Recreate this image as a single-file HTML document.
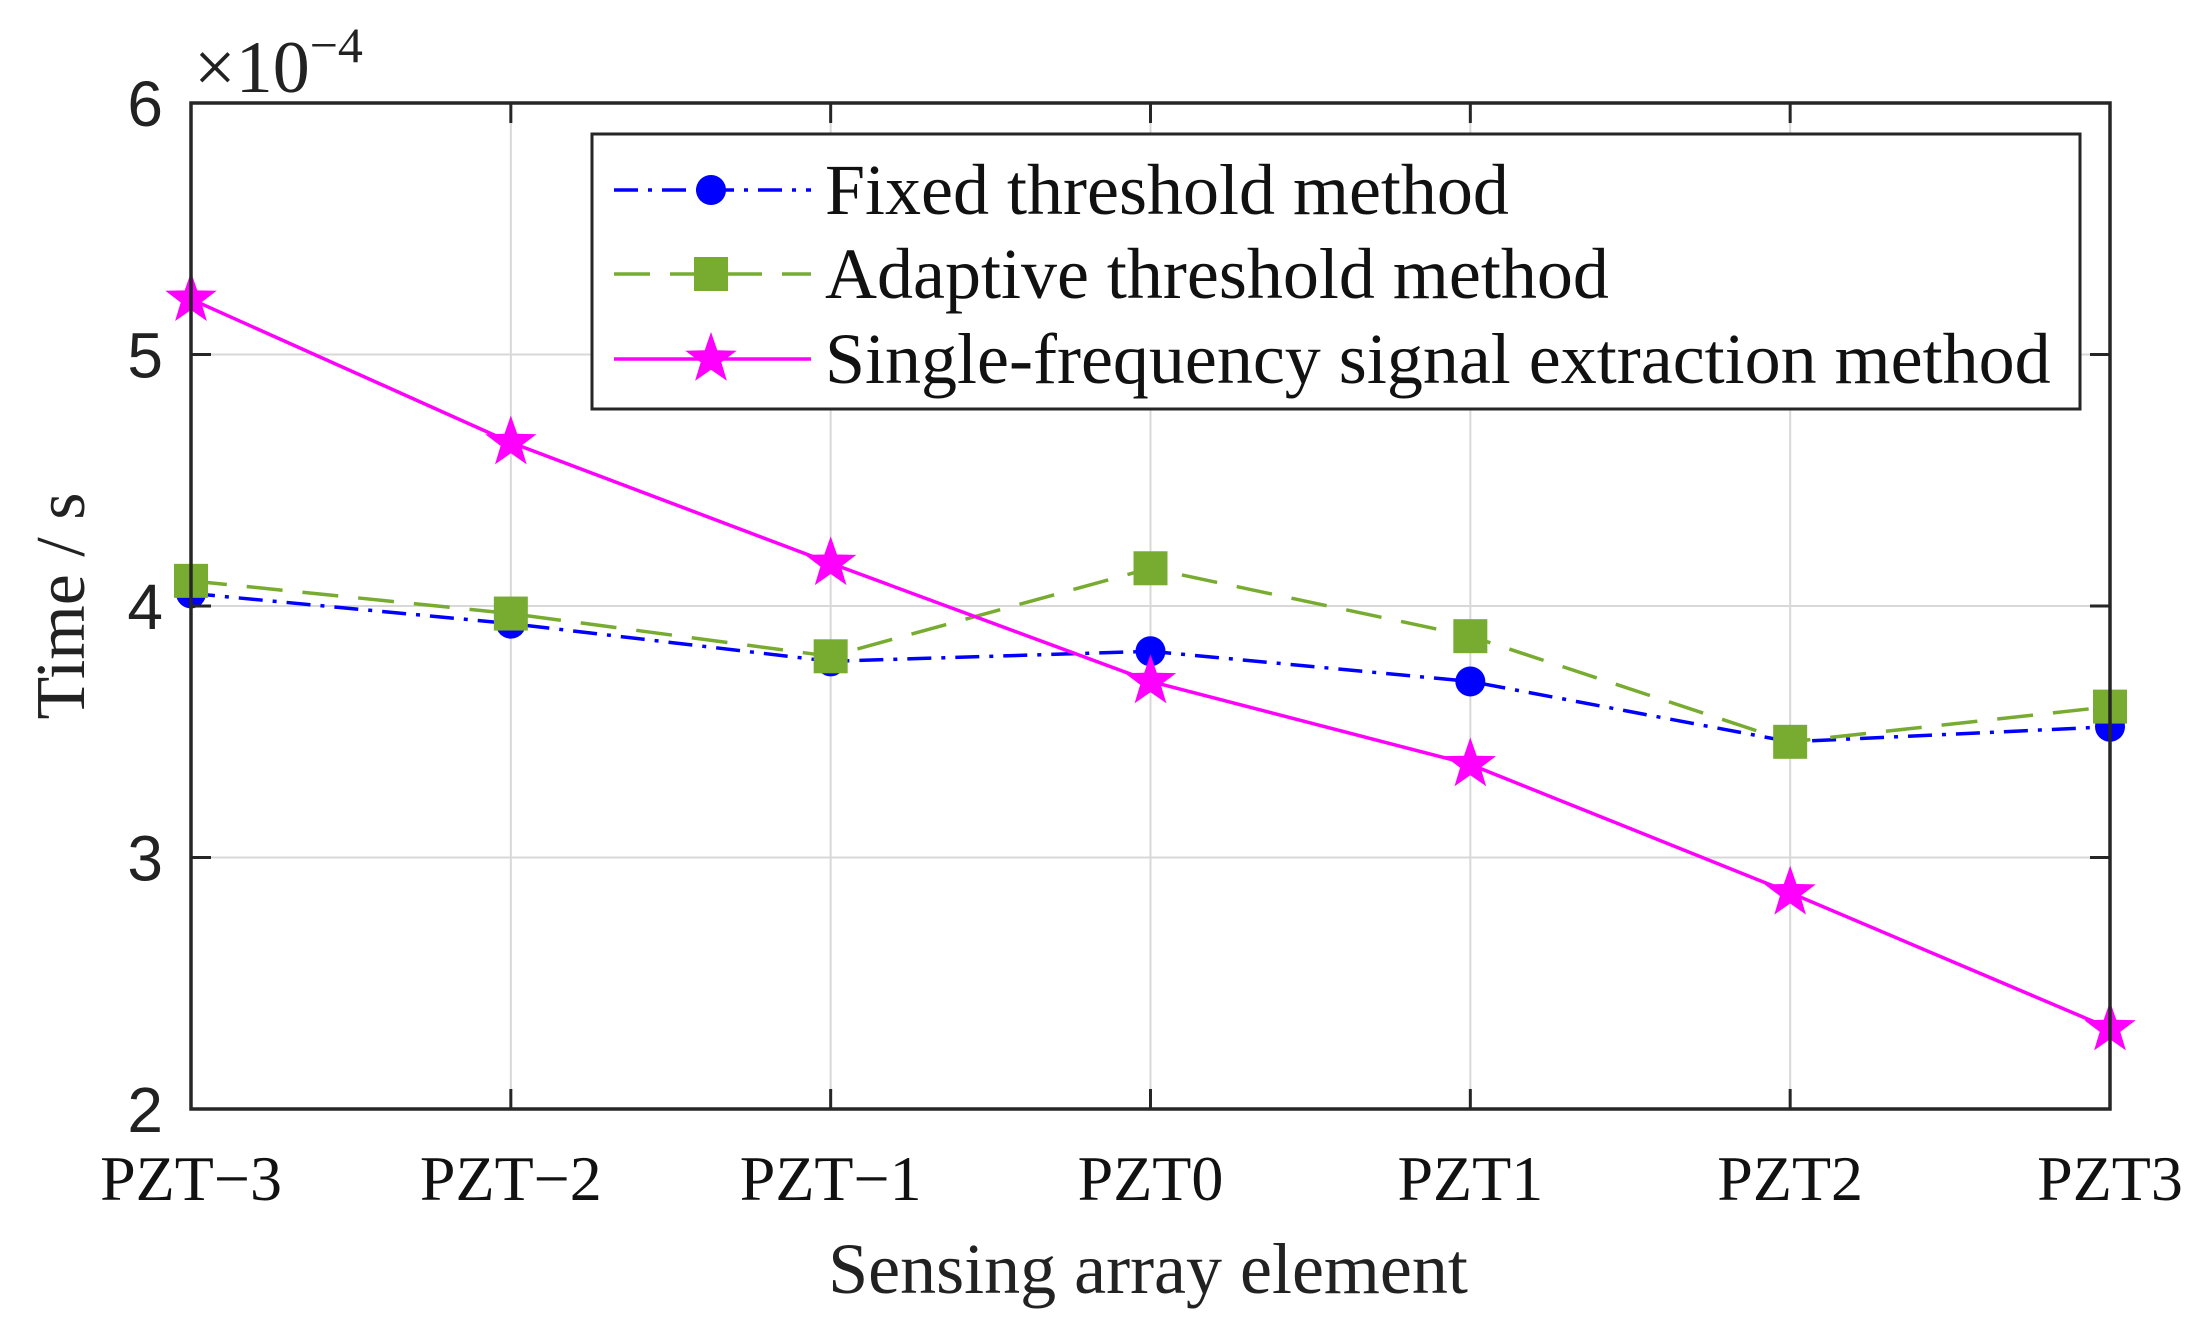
<!DOCTYPE html>
<html><head><meta charset="utf-8"><style>
html,body{margin:0;padding:0;background:#fff}
svg{display:block}
</style></head><body>
<svg id="chart" width="2204" height="1343" viewBox="0 0 2204 1343" xmlns="http://www.w3.org/2000/svg">
<g id="grid"></g>
<g id="series"></g>
<g id="axes"></g>
<text x="194" y="92" font-family="Liberation Serif, serif" font-size="74" fill="#222">×10<tspan dy="-30" font-size="50">−4</tspan></text>
<text transform="translate(84,606) rotate(-90)" text-anchor="middle" font-family="Liberation Serif, serif" font-size="70" fill="#222">Time / s</text>
<text x="1148" y="1293" text-anchor="middle" font-family="Liberation Serif, serif" font-size="72" fill="#222">Sensing array element</text>
<g id="legend"></g>
</svg>
<script>
const categories = ["PZT\u22123","PZT\u22122","PZT\u22121","PZT0","PZT1","PZT2","PZT3"];
const yTicks = [2,3,4,5,6];
const fixedValues = [4.05,3.93,3.78,3.82,3.70,3.46,3.52];
const adaptiveValues = [4.10,3.97,3.80,4.15,3.88,3.46,3.60];
const singleValues = [5.22,4.65,4.17,3.70,3.37,2.86,2.32];
const seriesNames = ["Fixed threshold method","Adaptive threshold method","Single-frequency signal extraction method"];

const NS="http://www.w3.org/2000/svg";
const L=191,R=2110,T=103,B=1109,yMin=2,yMax=6;
function xs(i){return L+(R-L)*i/(categories.length-1);}
function ys(v){return B-(B-T)*(v-yMin)/(yMax-yMin);}
function mk(tag,attrs,parent){const e=document.createElementNS(NS,tag);for(const k in attrs)e.setAttribute(k,attrs[k]);parent.appendChild(e);return e;}
const grid=document.getElementById('grid'),axes=document.getElementById('axes'),ser=document.getElementById('series'),leg=document.getElementById('legend');

categories.forEach((c,i)=>{
  const g=mk('line',{x1:xs(i),x2:xs(i),y1:T,y2:B,stroke:'#d8d8d8','stroke-width':2},grid);
  
  
  const t1=mk('line',{x1:xs(i),x2:xs(i),y1:B,y2:B-20,stroke:'#262626','stroke-width':3},axes);
  
  
  const t2=mk('line',{x1:xs(i),x2:xs(i),y1:T,y2:T+20,stroke:'#262626','stroke-width':3},axes);
  
  
  const lb=mk('text',{x:xs(i),y:1200,'text-anchor':'middle','font-family':'Liberation Serif, serif','font-size':64,fill:'#111'},axes);
  lb.textContent=c;
  
  
});
yTicks.forEach(v=>{
  const g=mk('line',{x1:L,x2:R,y1:ys(v),y2:ys(v),stroke:'#d8d8d8','stroke-width':2},grid);
  
  
  const t1=mk('line',{x1:L,x2:L+20,y1:ys(v),y2:ys(v),stroke:'#262626','stroke-width':3},axes);
  
  
  const t2=mk('line',{x1:R,x2:R-20,y1:ys(v),y2:ys(v),stroke:'#262626','stroke-width':3},axes);
  
  
  const lb=mk('text',{x:L-28,y:ys(v)+23,'text-anchor':'end','font-family':'Liberation Sans, sans-serif','font-size':64,fill:'#222'},axes);
  lb.textContent=v;
  
  
});
const frame=mk('rect',{x:L,y:T,width:R-L,height:B-T,fill:'none',stroke:'#262626','stroke-width':3.5},axes);



function star(cx,cy,r,parent){
  let p=[];for(let k=0;k<10;k++){const a=-Math.PI/2+k*Math.PI/5;const rr=k%2?r*0.4:r;p.push((cx+rr*Math.cos(a)).toFixed(1)+','+(cy+rr*Math.sin(a)).toFixed(1));}
  return mk('polygon',{points:p.join(' '),fill:'#ff00ff'},parent);
}
function marker(type,cx,cy,parent){
  if(type==='circle')return mk('circle',{cx:cx,cy:cy,r:15,fill:'#0000ff'},parent);
  if(type==='square')return mk('rect',{x:cx-17,y:cy-17,width:34,height:34,fill:'#77ac30'},parent);
  return star(cx,cy,27,parent);
}
const styles=[
  {vals:fixedValues,color:'#0000ff',dash:'24 10 4 10',m:'circle',name:'fixed-threshold-series'},
  {vals:adaptiveValues,color:'#77ac30',dash:'36 20',m:'square',name:'adaptive-threshold-series'},
  {vals:singleValues,color:'#ff00ff',dash:'none',m:'star',name:'single-frequency-series'}
];
styles.forEach(s=>{
  const g=mk('g',{},ser);
  
  
  const pts=s.vals.map((v,i)=>xs(i)+','+ys(v)).join(' ');
  const pl=mk('polyline',{points:pts,fill:'none',stroke:s.color,'stroke-width':3.5,'stroke-dasharray':s.dash},g);
  
  
  s.vals.forEach((v,i)=>{
    const m=marker(s.m,xs(i),ys(v),g);
    
    
  });
});
const box=mk('rect',{x:592,y:134,width:1488,height:275,fill:'#fff',stroke:'#262626','stroke-width':3},leg);


const ly=[190,274,359];
styles.forEach((s,i)=>{
  const g=mk('g',{},leg);
  
  
  mk('line',{x1:614,x2:811,y1:ly[i],y2:ly[i],stroke:s.color,'stroke-width':3.5,'stroke-dasharray':s.dash},g);
  marker(s.m,711,ly[i],g);
  const t=mk('text',{x:825,y:ly[i]+24,'font-family':'Liberation Serif, serif','font-size':72,fill:'#111'},g);
  t.textContent=seriesNames[i];
});
</script>
</body></html>
